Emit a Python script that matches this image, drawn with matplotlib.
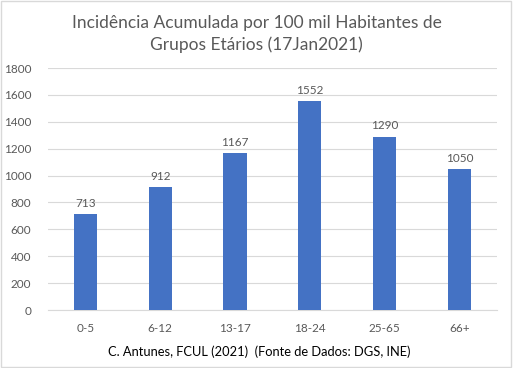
import matplotlib
matplotlib.use("Agg")
import matplotlib.pyplot as plt
from matplotlib.patches import Rectangle

grupos = ['0-5', '6-12', '13-17', '18-24', '25-65', '66+']
incidencia = [713, 912, 1167, 1552, 1290, 1050]
yticks = list(range(0, 2000, 200))

cinza = '#595959'
azul = '#4472C4'

plt.rcParams['font.family'] = ['Lato', 'DejaVu Sans']

fig = plt.figure(figsize=(5.13, 3.68), dpi=100)
ax = fig.add_axes([0.0936, 0.1576, 0.875, 0.6574])

x = range(len(grupos))
bars = ax.bar(x, incidencia, width=0.31, color=azul, zorder=3)
for xi, v in zip(x, incidencia):
    ax.text(xi, v + 40, str(v), ha='center', va='bottom', fontsize=8.5, color=cinza)

ax.set_xlim(-0.5, len(grupos) - 0.5)
ax.set_ylim(0, 1800)
ax.set_yticks(yticks)
ax.set_xticks(list(x))
ax.set_xticklabels(grupos)
ax.tick_params(axis='both', length=0, labelsize=8.5, colors=cinza)
ax.tick_params(axis='x', pad=9)
ax.tick_params(axis='y', pad=12)
ax.grid(axis='y', color='#d9d9d9', linewidth=0.8, zorder=0)
for s in ['top', 'right', 'left']:
    ax.spines[s].set_visible(False)
ax.spines['bottom'].set_color('#d9d9d9')

ax.set_xlabel('C. Antunes, FCUL (2021)  (Fonte de Dados: DGS, INE)',
              fontsize=9.3, color='black')
ax.xaxis.set_label_coords(0.47, -0.145)

fig.text(0.5, 0.908, 'Incidência Acumulada por 100 mil Habitantes de\nGrupos Etários (17Jan2021)',
         ha='center', va='center', fontsize=12.5, color=cinza, linespacing=1.4)

fig.patches.append(Rectangle((0.002, 0.003), 0.995, 0.994, transform=fig.transFigure,
                             fill=False, edgecolor='#d9d9d9', linewidth=1))

plt.savefig('out.png', dpi=100)
